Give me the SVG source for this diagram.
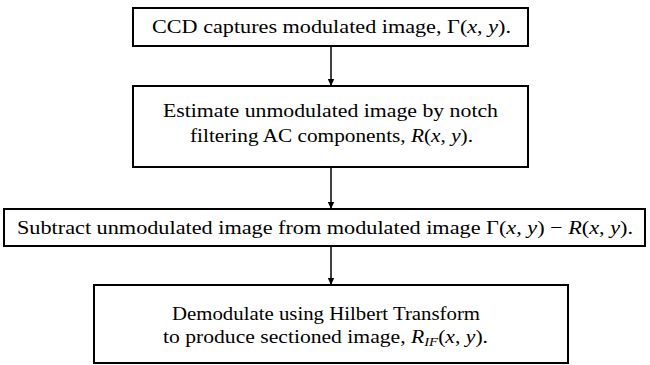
<svg xmlns="http://www.w3.org/2000/svg" width="650" height="365" viewBox="0 0 650 365">
<style>
.box{fill:#fff;stroke:#000;stroke-width:2}
.t{font-family:"Liberation Serif","DejaVu Serif",serif;font-size:19px;fill:#000}
.i{font-style:italic}
.c{stroke:#000;stroke-width:1.5;fill:none}
</style>
<defs>
<marker id="ah" markerWidth="8" markerHeight="8" refX="7" refY="4" orient="auto" markerUnits="userSpaceOnUse">
<path d="M0,0.8 L7,4 L0,7.2 Z" fill="#000"/>
</marker>
</defs>
<rect width="650" height="365" fill="#fff"/>
<g id="connectors">
<line class="c" x1="331" y1="46" x2="331" y2="86" marker-end="url(#ah)"/>
<line class="c" x1="331" y1="167" x2="331" y2="209" marker-end="url(#ah)"/>
<line class="c" x1="331" y1="246" x2="331" y2="285" marker-end="url(#ah)"/>
</g>
<g id="n1">
<rect class="box" x="133" y="8" width="395" height="38"/>
<text class="t" x="152" y="33" textLength="359" lengthAdjust="spacingAndGlyphs">CCD captures modulated image, Γ(<tspan class="i">x</tspan>, <tspan class="i">y</tspan>).</text>
</g>
<g id="n2">
<rect class="box" x="133" y="86" width="395" height="81"/>
<text class="t" x="163" y="117" textLength="335" lengthAdjust="spacingAndGlyphs">Estimate unmodulated image by notch</text>
<text class="t" x="190" y="142" textLength="283" lengthAdjust="spacingAndGlyphs">filtering AC components, <tspan class="i">R</tspan>(<tspan class="i">x</tspan>, <tspan class="i">y</tspan>).</text>
</g>
<g id="n3">
<rect class="box" x="4" y="209" width="641" height="37"/>
<text class="t" x="17" y="234" textLength="616" lengthAdjust="spacingAndGlyphs">Subtract unmodulated image from modulated image Γ(<tspan class="i">x</tspan>, <tspan class="i">y</tspan>) − <tspan class="i">R</tspan>(<tspan class="i">x</tspan>, <tspan class="i">y</tspan>).</text>
</g>
<g id="n4">
<rect class="box" x="94" y="285" width="474" height="78"/>
<text class="t" x="172" y="320" textLength="308" lengthAdjust="spacingAndGlyphs">Demodulate using Hilbert Transform</text>
<text class="t" x="163" y="343" textLength="325" lengthAdjust="spacingAndGlyphs">to produce sectioned image, <tspan class="i">R</tspan><tspan class="i" font-size="13" dy="3">IF</tspan><tspan dy="-3">(</tspan><tspan class="i">x</tspan>, <tspan class="i">y</tspan>).</text>
</g>
</svg>
